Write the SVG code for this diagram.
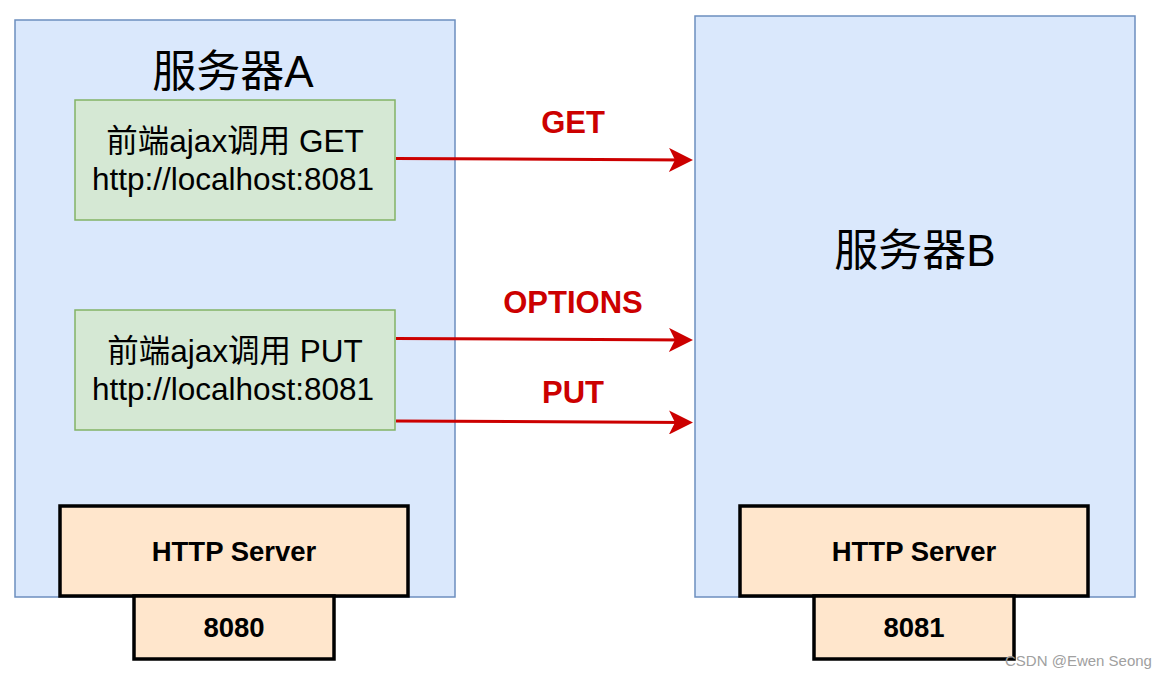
<svg xmlns="http://www.w3.org/2000/svg" width="1168" height="678" viewBox="0 0 1168 678">
<defs>
<style>
.srv{fill:#dae8fc;stroke:#6c8ebf;stroke-width:1.5}
.fe{fill:#d5e8d4;stroke:#82b366;stroke-width:1.5}
.hs{fill:#ffe6cc;stroke:#000;stroke-width:3.5}
.t{font-family:"Liberation Sans","Noto Sans CJK SC",sans-serif;fill:#000;text-anchor:middle}
.title{font-size:44px}
.fet{font-size:31.5px}
.b{font-weight:bold;font-size:27.5px}
.lbl{font-family:"Liberation Sans",sans-serif;font-weight:bold;font-size:31px;fill:#cc0000;text-anchor:middle}
.edge{stroke:#cc0000;stroke-width:3;fill:none}
.wm{font-family:"Liberation Sans",sans-serif;font-size:15px;fill:#a0a0a0}
</style>
<marker id="arr" viewBox="0 0 24 24" refX="18" refY="12" markerWidth="24" markerHeight="24" markerUnits="userSpaceOnUse" orient="auto">
<path d="M0,0 L24,12 L0,24 L6,12 Z" fill="#cc0000"/>
</marker>
</defs>
<g id="serverA">
<rect class="srv" x="15" y="20" width="440" height="577"/>
<text class="t title" x="233" y="87">服务器A</text>
</g>
<g id="serverB">
<rect class="srv" x="695" y="16" width="440" height="581"/>
<text class="t title" x="915" y="266">服务器B</text>
</g>
<g id="ajaxGet">
<rect class="fe" x="75" y="100" width="320" height="120"/>
<text class="t fet" x="235" y="152">前端ajax调用 GET</text>
<text class="t fet" x="233" y="190">http://localhost:8081</text>
</g>
<g id="ajaxPut">
<rect class="fe" x="75" y="310" width="320" height="120"/>
<text class="t fet" x="235" y="362">前端ajax调用 PUT</text>
<text class="t fet" x="233" y="400">http://localhost:8081</text>
</g>
<g id="httpA">
<rect class="hs" x="60" y="506" width="348" height="90"/>
<text class="t b" x="234" y="561">HTTP Server</text>
</g>
<g id="port8080">
<rect class="hs" x="134" y="596" width="200" height="63"/>
<text class="t b" x="234" y="637">8080</text>
</g>
<g id="httpB">
<rect class="hs" x="740" y="506" width="348" height="90"/>
<text class="t b" x="914" y="561">HTTP Server</text>
</g>
<g id="port8081">
<rect class="hs" x="814" y="596" width="200" height="63"/>
<text class="t b" x="914" y="637">8081</text>
</g>
<g id="connectors">
<line class="edge" x1="396" y1="158.5" x2="687" y2="160" marker-end="url(#arr)"/>
<text class="lbl" x="573" y="133">GET</text>
<line class="edge" x1="396" y1="338.5" x2="687" y2="340" marker-end="url(#arr)"/>
<text class="lbl" x="573" y="313">OPTIONS</text>
<line class="edge" x1="396" y1="421" x2="687" y2="422.5" marker-end="url(#arr)"/>
<text class="lbl" x="573" y="403">PUT</text>
</g>
<text class="wm" x="1005" y="666">CSDN @Ewen Seong</text>
</svg>
